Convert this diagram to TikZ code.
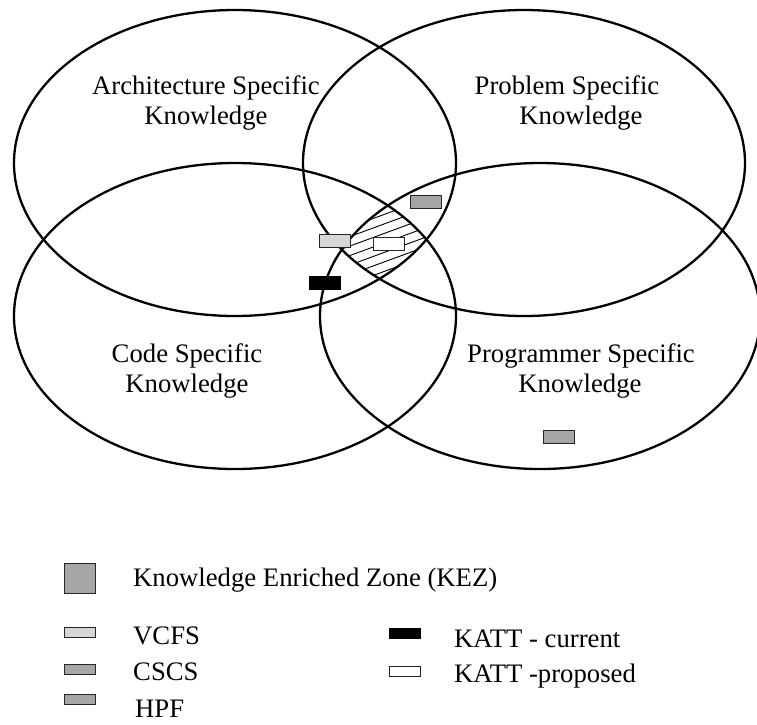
\documentclass[tikz,border=0pt]{standalone}
\usepackage{fontspec}
\setmainfont{Liberation Serif}
\definecolor{kgrey}{HTML}{A6A6A6}
\definecolor{klight}{HTML}{D6D6D6}
\tikzset{
  venn/.style={line width=2.3pt, draw=black},
  hatchline/.style={line width=0.9pt, draw=black},
  lbl/.style={anchor=base, inner sep=0pt, font=\fontsize{26.7}{30}\selectfont},
  lgd/.style={anchor=base west, inner sep=0pt, font=\fontsize{26.7}{30}\selectfont},
  mark box/.style={draw=black!85, line width=1pt, inner sep=0pt, minimum width=31pt, minimum height=13pt},
  legend box/.style={draw=black!85, line width=1pt, inner sep=0pt, minimum width=31pt, minimum height=10pt},
}
\begin{document}
\begin{tikzpicture}[x=1pt, y=-1pt]
\useasboundingbox (0,0) rectangle (757,724);

% four knowledge ellipses
\draw[venn] (235,163) ellipse [x radius=221pt, y radius=153pt];
\draw[venn] (524,163) ellipse [x radius=221pt, y radius=153pt];
\draw[venn] (235,316) ellipse [x radius=221pt, y radius=153pt];
\draw[venn] (540,316) ellipse [x radius=220pt, y radius=153pt];

% hatched common zone
\begin{scope}
  \clip (235,163) ellipse [x radius=221pt, y radius=153pt];
  \clip (524,163) ellipse [x radius=221pt, y radius=153pt];
  \clip (235,316) ellipse [x radius=221pt, y radius=153pt];
  \clip (540,316) ellipse [x radius=220pt, y radius=153pt];
  \foreach \k in {0,...,14} {
    \draw[hatchline] (320,{200+9.5*\k}) -- (460,{200+9.5*\k-51.4});
  }
\end{scope}

% labels
\node[lbl] (arch1) at (206,94) {Architecture Specific};
\node[lbl] (arch2) at (206,124) {Knowledge};
\node[lbl] (prob1) at (567,94) {Problem Specific};
\node[lbl] (prob2) at (581,124) {Knowledge};
\node[lbl] (code1) at (187,362) {Code Specific};
\node[lbl] (code2) at (187,392) {Knowledge};
\node[lbl] (prog1) at (581,362) {Programmer Specific};
\node[lbl] (prog2) at (580,392) {Knowledge};

% markers in the diagram
\node[mark box, fill=kgrey] (cscsmark) at (425.5,201.5) {};
\node[mark box, fill=klight] (vcfsmark) at (334.5,240.5) {};
\node[mark box, fill=white] (kattpmark) at (388.5,243.5) {};
\node[mark box, fill=black, draw=black] (kattcmark) at (325,283) {};
\node[mark box, fill=kgrey] (hpfmark) at (558.5,437) {};

% legend
\node[draw=black!85, line width=1pt, fill=kgrey, inner sep=0pt, minimum width=31pt, minimum height=30pt] (kezbox) at (79.5,578) {};
\node[lgd] (keztext) at (133,586) {Knowledge Enriched Zone (KEZ)};

\node[legend box, fill=klight] (vcfsbox) at (79.5,632.5) {};
\node[lgd] (vcfstext) at (133,644) {VCFS};
\node[legend box, fill=kgrey] (cscsbox) at (79.5,669) {};
\node[lgd] (cscstext) at (133,680) {CSCS};
\node[legend box, fill=kgrey] (hpfbox) at (79.5,699) {};
\node[lgd] (hpftext) at (135,717) {HPF};

\node[legend box, fill=black, draw=black] (kattcbox) at (404.5,633) {};
\node[lgd] (kattctext) at (454,647) {KATT - current};
\node[legend box, fill=white] (kattpbox) at (404.5,671.5) {};
\node[lgd] (kattptext) at (454,682) {KATT -proposed};
\end{tikzpicture}
\end{document}
